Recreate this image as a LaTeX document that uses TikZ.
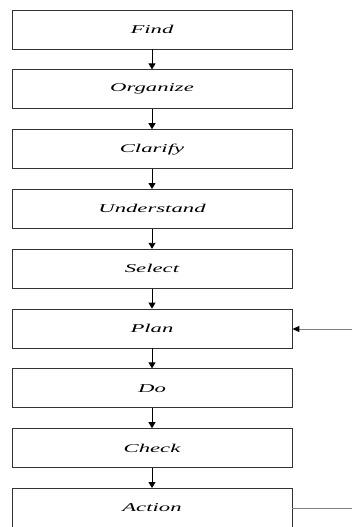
\documentclass[tikz,border=0pt]{standalone}
\usepackage{graphicx}
\usepackage{fontspec}
\setmainfont{Liberation Serif}
\usetikzlibrary{positioning,arrows.meta}
\tikzset{
    stage/.style={draw=black!80, line width=0.8bp, rectangle, minimum width=280bp, minimum height=39bp, inner sep=0pt},
    flow/.style={-{Triangle[length=6bp,width=7bp]}, line width=0.9bp, black},
    loop/.style={line width=0.9bp, black!50}
}
\newcommand{\stagetext}[1]{\fontsize{12}{14}\selectfont\scalebox{1.9}[1]{\itshape #1}}

\begin{document}
\begin{tikzpicture}[x=1bp, y=1bp]
        \useasboundingbox (0,0) rectangle (352,-527);
        \node[stage] (find) at (152,-29.5) {\stagetext{Find}};
        \node[stage, below=20bp of find] (organize) {\stagetext{Organize}};
        \node[stage, below=20bp of organize] (clarify) {\stagetext{Clarify}};
        \node[stage, below=20bp of clarify] (understand) {\stagetext{Understand}};
        \node[stage, below=20bp of understand] (select) {\stagetext{Select}};
        \node[stage, below=20bp of select] (plan) {\stagetext{Plan}};
        \node[stage, below=20bp of plan] (do) {\stagetext{Do}};
        \node[stage, below=20bp of do] (check) {\stagetext{Check}};
        \node[stage, below=20bp of check] (action) {\stagetext{Action}};
        \coordinate (planin) at (352,-329);
        \coordinate (actionout) at (352,-508);

        \draw[flow] (find) -- (organize);
        \draw[flow] (organize) -- (clarify);
        \draw[flow] (clarify) -- (understand);
        \draw[flow] (understand) -- (select);
        \draw[flow] (select) -- (plan);
        \draw[flow] (plan) -- (do);
        \draw[flow] (do) -- (check);
        \draw[flow] (check) -- (action);
        \draw[loop, -{Triangle[length=7bp,width=6bp,color=black]}] (planin) -- (planin -| plan.east);
        \draw[loop] (actionout -| action.east) -- (actionout);
    \end{tikzpicture}
\end{document}
